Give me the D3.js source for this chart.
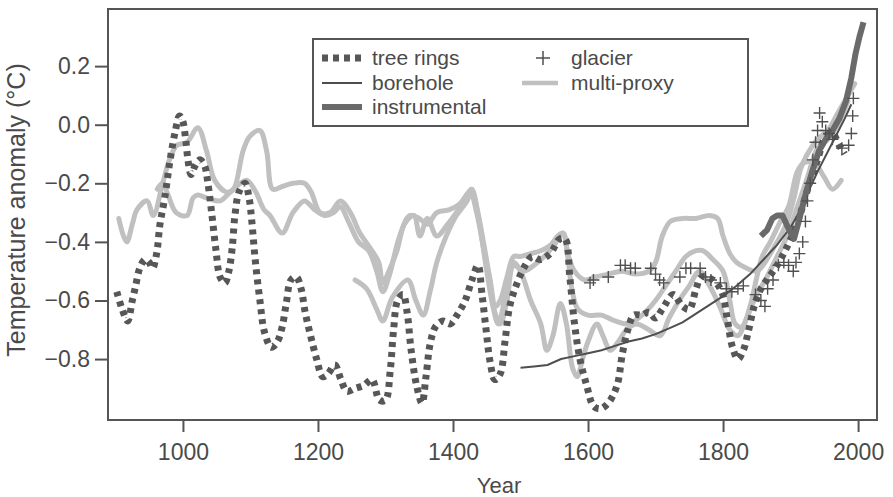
<!DOCTYPE html>
<html><head><meta charset="utf-8">
<script src="https://cdn.jsdelivr.net/npm/d3@7/dist/d3.min.js"></script>
<style>body{margin:0;background:#fff}text{font-family:"Liberation Sans",Arial,Helvetica,sans-serif;fill:#4a4a4a}</style>
</head><body>
<svg id="c" width="893" height="497"></svg>
<script>
// ---- data ----
const xTicks = [1000, 1200, 1400, 1600, 1800, 2000];
const yTicks = [0.2, 0.0, -0.2, -0.4, -0.6, -0.8];
const xLabel = "Year";
const yLabel = "Temperature anomaly (°C)";

const treeRings = [[902,-0.57],[910,-0.63],[918,-0.67],[925,-0.6],[930,-0.55],[936,-0.49],[944,-0.46],[950,-0.47],[955,-0.49],[961,-0.44],[966,-0.34],[973,-0.25],[981,-0.12],[988,-0.03],[995,0.03],[1000,0.01],[1004,-0.05],[1008,-0.13],[1012,-0.17],[1018,-0.14],[1025,-0.12],[1032,-0.14],[1037,-0.2],[1043,-0.31],[1049,-0.43],[1055,-0.52],[1062,-0.54],[1068,-0.5],[1073,-0.42],[1077,-0.31],[1083,-0.23],[1092,-0.2],[1098,-0.25],[1102,-0.33],[1107,-0.46],[1114,-0.6],[1121,-0.71],[1131,-0.76],[1140,-0.74],[1147,-0.69],[1153,-0.61],[1160,-0.53],[1168,-0.52],[1175,-0.56],[1181,-0.64],[1189,-0.72],[1198,-0.8],[1207,-0.86],[1215,-0.85],[1225,-0.82],[1234,-0.87],[1243,-0.91],[1255,-0.9],[1268,-0.89],[1280,-0.87],[1291,-0.94],[1300,-0.94],[1307,-0.84],[1312,-0.7],[1318,-0.6],[1326,-0.58],[1332,-0.64],[1338,-0.77],[1346,-0.89],[1354,-0.95],[1360,-0.86],[1366,-0.75],[1374,-0.69],[1385,-0.67],[1396,-0.68],[1406,-0.65],[1418,-0.6],[1428,-0.53],[1437,-0.48],[1443,-0.58],[1449,-0.7],[1455,-0.81],[1462,-0.87],[1470,-0.85],[1477,-0.74],[1484,-0.62],[1495,-0.54],[1507,-0.48],[1517,-0.45],[1529,-0.46],[1544,-0.44],[1558,-0.39],[1566,-0.39],[1573,-0.52],[1580,-0.68],[1588,-0.8],[1598,-0.89],[1608,-0.96],[1618,-0.97],[1630,-0.95],[1643,-0.89],[1651,-0.78],[1659,-0.7],[1668,-0.65],[1680,-0.65],[1690,-0.64],[1700,-0.66],[1710,-0.63],[1726,-0.58],[1740,-0.62],[1750,-0.63],[1760,-0.56],[1768,-0.52],[1785,-0.53],[1798,-0.57],[1806,-0.66],[1814,-0.76],[1822,-0.8],[1830,-0.77],[1838,-0.7],[1846,-0.62],[1856,-0.56],[1868,-0.52],[1880,-0.48],[1892,-0.43],[1904,-0.37],[1915,-0.3],[1928,-0.2],[1940,-0.12],[1952,-0.04],[1962,-0.03],[1972,-0.07],[1980,-0.1]];

const borehole = [[1500,-0.83],[1520,-0.825],[1540,-0.82],[1560,-0.8],[1580,-0.79],[1600,-0.78],[1620,-0.77],[1640,-0.755],[1660,-0.74],[1680,-0.73],[1700,-0.715],[1720,-0.695],[1740,-0.675],[1760,-0.645],[1780,-0.615],[1800,-0.585],[1820,-0.55],[1840,-0.51],[1860,-0.46],[1880,-0.41],[1900,-0.35],[1910,-0.31],[1920,-0.26],[1940,-0.16],[1960,-0.07],[1980,0.02],[1990,0.07]];

const instrumental = [[1856,-0.38],[1865,-0.36],[1873,-0.32],[1880,-0.31],[1888,-0.31],[1896,-0.35],[1905,-0.39],[1912,-0.33],[1922,-0.24],[1932,-0.16],[1942,-0.09],[1952,-0.05],[1962,-0.02],[1972,0.02],[1982,0.08],[1990,0.16],[1996,0.24],[2002,0.3],[2008,0.35]];

const multiProxy1 = [[905,-0.32],[912,-0.38],[917,-0.40],[925,-0.34],[932,-0.29],[947,-0.26],[956,-0.31],[970,-0.2],[980,-0.12],[991,-0.07],[1006,-0.06],[1022,-0.01],[1035,-0.09],[1047,-0.19],[1065,-0.23],[1075,-0.22],[1089,-0.09],[1099,-0.04],[1114,-0.02],[1124,-0.09],[1133,-0.22],[1148,-0.21],[1163,-0.2],[1180,-0.2],[1190,-0.23],[1203,-0.3],[1218,-0.3],[1233,-0.26],[1248,-0.3],[1262,-0.37],[1277,-0.42],[1290,-0.47],[1296,-0.54],[1305,-0.5],[1317,-0.43],[1328,-0.34],[1342,-0.31],[1351,-0.38],[1362,-0.32],[1376,-0.38],[1392,-0.34],[1408,-0.29],[1421,-0.24],[1427,-0.22],[1435,-0.28],[1445,-0.4],[1455,-0.53],[1463,-0.62],[1470,-0.6],[1480,-0.52],[1490,-0.45],[1500,-0.45],[1515,-0.44],[1530,-0.43],[1545,-0.41],[1555,-0.38],[1563,-0.37],[1570,-0.44],[1580,-0.5],[1595,-0.53],[1610,-0.52],[1630,-0.51],[1650,-0.5],[1670,-0.51],[1690,-0.5],[1700,-0.47],[1710,-0.38],[1722,-0.33],[1740,-0.32],[1760,-0.32],[1780,-0.31],[1792,-0.32],[1800,-0.38],[1810,-0.44],[1820,-0.47],[1835,-0.49],[1850,-0.5],[1862,-0.47],[1875,-0.42],[1885,-0.38],[1895,-0.33],[1905,-0.25],[1915,-0.15],[1925,-0.1],[1940,-0.05],[1955,-0.02],[1970,0.04],[1985,0.1],[1995,0.14]];

const multiProxy2 = [[962,-0.22],[970,-0.2],[978,-0.24],[990,-0.3],[1006,-0.31],[1015,-0.25],[1022,-0.24],[1035,-0.25],[1055,-0.26],[1070,-0.23],[1085,-0.2],[1095,-0.19],[1108,-0.23],[1120,-0.29],[1129,-0.31],[1147,-0.37],[1163,-0.3],[1180,-0.26],[1195,-0.29],[1210,-0.31],[1223,-0.3],[1233,-0.28],[1245,-0.33],[1260,-0.4],[1275,-0.43],[1287,-0.5],[1296,-0.57],[1305,-0.52],[1321,-0.38],[1336,-0.31],[1350,-0.32],[1362,-0.34],[1376,-0.3],[1395,-0.29],[1410,-0.27],[1425,-0.23],[1435,-0.3],[1445,-0.42],[1455,-0.55],[1462,-0.64],[1470,-0.68],[1480,-0.6],[1490,-0.48],[1505,-0.5],[1520,-0.48],[1535,-0.45],[1550,-0.41],[1563,-0.37],[1570,-0.45],[1576,-0.56],[1585,-0.63],[1600,-0.65],[1620,-0.65],[1640,-0.67],[1660,-0.68],[1680,-0.65],[1700,-0.6],[1715,-0.55],[1730,-0.5],[1745,-0.45],[1760,-0.43],[1770,-0.43],[1785,-0.46],[1800,-0.5],[1810,-0.6],[1818,-0.68],[1828,-0.69],[1840,-0.62],[1850,-0.52],[1858,-0.45],[1870,-0.4],[1885,-0.33],[1897,-0.28],[1910,-0.16],[1920,-0.13],[1935,-0.13],[1950,-0.18],[1962,-0.22],[1975,-0.19]];

const multiProxy3 = [[1255,-0.53],[1272,-0.56],[1287,-0.63],[1296,-0.67],[1310,-0.59],[1333,-0.53],[1345,-0.6],[1356,-0.65],[1366,-0.57],[1376,-0.47],[1390,-0.38],[1405,-0.31],[1421,-0.26],[1428,-0.22],[1438,-0.32],[1450,-0.5],[1460,-0.63],[1467,-0.68],[1478,-0.58],[1489,-0.47],[1500,-0.5],[1515,-0.6],[1530,-0.68],[1539,-0.77],[1548,-0.72],[1559,-0.61],[1568,-0.68],[1577,-0.83],[1584,-0.86],[1592,-0.8],[1600,-0.74],[1613,-0.68],[1622,-0.72],[1633,-0.77],[1645,-0.74],[1657,-0.7],[1672,-0.68],[1690,-0.7],[1707,-0.72],[1720,-0.66],[1735,-0.6],[1750,-0.55],[1765,-0.5],[1780,-0.55],[1795,-0.62],[1810,-0.7],[1822,-0.72],[1835,-0.66],[1850,-0.58],[1865,-0.52],[1880,-0.45],[1895,-0.38],[1910,-0.28],[1925,-0.18],[1940,-0.08],[1955,-0.05],[1970,0.0],[1985,0.08]];

const glacier = [[1603,-0.54],[1608,-0.53],[1630,-0.52],[1648,-0.48],[1655,-0.48],[1663,-0.49],[1670,-0.49],[1693,-0.49],[1700,-0.51],[1706,-0.53],[1712,-0.54],[1736,-0.52],[1745,-0.49],[1752,-0.49],[1766,-0.49],[1774,-0.52],[1782,-0.53],[1796,-0.54],[1805,-0.56],[1813,-0.57],[1822,-0.56],[1830,-0.55],[1848,-0.58],[1856,-0.6],[1862,-0.62],[1866,-0.56],[1874,-0.53],[1882,-0.48],[1890,-0.47],[1897,-0.48],[1904,-0.5],[1908,-0.47],[1913,-0.44],[1918,-0.4],[1922,-0.33],[1925,-0.26],[1929,-0.2],[1933,-0.12],[1937,-0.06],[1940,-0.02],[1943,0.04],[1947,0.01],[1952,-0.02],[1957,-0.03],[1962,-0.05],[1976,-0.08],[1986,-0.07],[1990,-0.03],[1992,0.03],[1993,0.09]];

// ---- chart ----
const svg = d3.select("#c");
const L = 108, R = 877, T = 9, B = 420;
const x = d3.scaleLinear().domain([889, 2028]).range([L, R]);
const y = d3.scaleLinear().domain([-1.008, 0.395]).range([B, T]);

const dark = "#575757";
const light = "#c0c0c0";

const lineLin = d3.line().x(d => x(d[0])).y(d => y(d[1]));
const lineSmooth = d3.line().x(d => x(d[0])).y(d => y(d[1])).curve(d3.curveCatmullRom.alpha(0.5));

const plot = svg.append("g");
[multiProxy1, multiProxy2, multiProxy3].forEach(s => {
  plot.append("path").attr("d", lineSmooth(s)).attr("fill", "none")
    .attr("stroke", light).attr("stroke-width", 5).attr("stroke-linejoin", "round").attr("stroke-linecap", "round");
});
plot.append("path").attr("d", lineSmooth(treeRings)).attr("fill", "none")
  .attr("stroke", dark).attr("stroke-width", 7).attr("stroke-dasharray", "5,5");
plot.append("path").attr("d", lineLin(borehole)).attr("fill", "none")
  .attr("stroke", "#4e4e4e").attr("stroke-width", 2);
plot.append("path").attr("d", lineLin(instrumental)).attr("fill", "none")
  .attr("stroke", "#6a6a6a").attr("stroke-width", 6).attr("stroke-linejoin", "round");
plot.selectAll("path.gl").data(glacier).join("path").attr("class", "gl")
  .attr("transform", d => `translate(${x(d[0])},${y(d[1])})`)
  .attr("d", "M-6,0H6M0,-6V6").attr("stroke", "#505050").attr("stroke-width", 1.4).attr("fill", "none");

// frame
svg.append("rect").attr("x", L).attr("y", T).attr("width", R - L).attr("height", B - T)
  .attr("fill", "none").attr("stroke", "#555").attr("stroke-width", 2);

// axes
const fmt = d3.format(".1f");
const xAxis = svg.append("g").attr("transform", `translate(0,${B})`)
  .call(d3.axisBottom(x).tickValues(xTicks).tickSize(12).tickPadding(12).tickFormat(d3.format("d")));
const yAxis = svg.append("g").attr("transform", `translate(${L},0)`)
  .call(d3.axisLeft(y).tickValues(yTicks).tickSize(13).tickPadding(5).tickFormat(fmt));
[xAxis, yAxis].forEach(a => {
  a.select(".domain").remove();
  a.selectAll("line").attr("stroke", "#555").attr("stroke-width", 2);
  a.selectAll("text").attr("font-size", 23).attr("fill", "#4a4a4a")
   .style("font-family", '"Liberation Sans", Arial, sans-serif');
});

svg.append("text").attr("x", 499).attr("y", 493).attr("text-anchor", "middle")
  .attr("font-size", 22).text(xLabel);
svg.append("text").attr("transform", "translate(25,210) rotate(-90)").attr("text-anchor", "middle")
  .attr("font-size", 25).text(yLabel);

// legend
const lg = svg.append("g");
lg.append("rect").attr("x", 313).attr("y", 39).attr("width", 435).attr("height", 87)
  .attr("fill", "#fff").attr("stroke", "#555").attr("stroke-width", 2);
const legendItems = [
  {name: "tree rings", col: 0, row: 0, type: "tree"},
  {name: "borehole", col: 0, row: 1, type: "bore"},
  {name: "instrumental", col: 0, row: 2, type: "inst"},
  {name: "glacier", col: 1, row: 0, type: "glac"},
  {name: "multi-proxy", col: 1, row: 1, type: "mp"}
];
const rowY = [58, 83, 107];
legendItems.forEach(it => {
  const yy = rowY[it.row];
  const sx = it.col === 0 ? 322 : 522, tx = it.col === 0 ? 372 : 571;
  if (it.type === "tree") lg.append("line").attr("x1", sx).attr("x2", sx + 40).attr("y1", yy).attr("y2", yy)
      .attr("stroke", dark).attr("stroke-width", 7).attr("stroke-dasharray", "6,5");
  if (it.type === "bore") lg.append("line").attr("x1", sx).attr("x2", sx + 40).attr("y1", yy).attr("y2", yy)
      .attr("stroke", "#4e4e4e").attr("stroke-width", 2);
  if (it.type === "inst") lg.append("line").attr("x1", sx).attr("x2", sx + 40).attr("y1", yy).attr("y2", yy)
      .attr("stroke", "#6a6a6a").attr("stroke-width", 6);
  if (it.type === "mp") lg.append("line").attr("x1", sx).attr("x2", sx + 36).attr("y1", yy).attr("y2", yy)
      .attr("stroke", light).attr("stroke-width", 4.5);
  if (it.type === "glac") lg.append("path").attr("transform", `translate(${sx + 21},${yy})`)
      .attr("d", "M-7,0H7M0,-7V7").attr("stroke", "#505050").attr("stroke-width", 1.5);
  lg.append("text").attr("x", tx).attr("y", yy).attr("dy", "0.35em").attr("font-size", 21).text(it.name);
});
</script>
</body></html>
